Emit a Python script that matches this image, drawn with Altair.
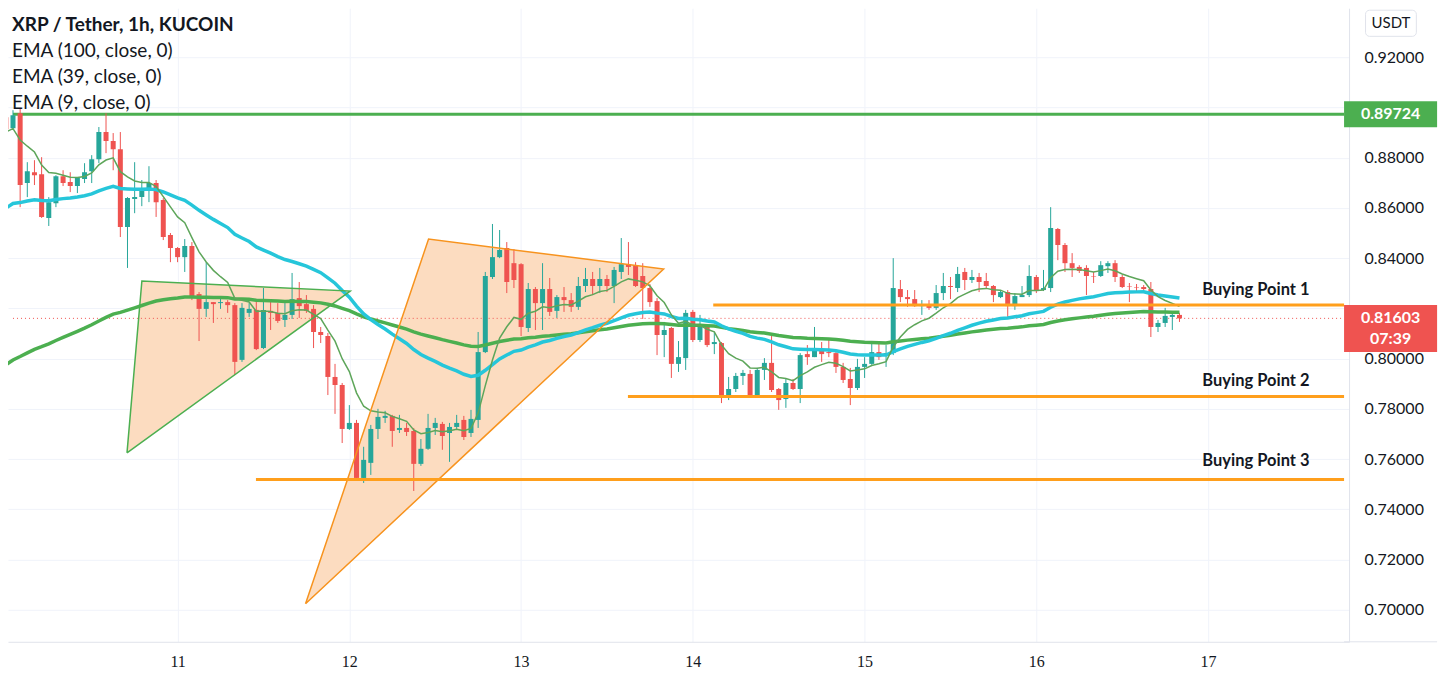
import altair as alt
import pandas as pd

# ---------------- data (XRP/USDT, 1h, KuCoin) ----------------
# candle index = hours since day 10 00:00
open_ = [
    0.8961, 0.8917, 0.8977, 0.8699, 0.8742, 0.8734, 0.8560, 0.8619, 0.8726, 0.8703,
    0.8687, 0.8715, 0.8746, 0.8794, 0.8902, 0.8866, 0.8834, 0.8524, 0.8635, 0.8643,
    0.8671, 0.8699, 0.8631, 0.8492, 0.8440, 0.8404, 0.8448, 0.8257, 0.8198, 0.8225,
    0.8221, 0.8225, 0.8213, 0.7995, 0.8182, 0.8194, 0.8042, 0.8190, 0.8182, 0.8154,
    0.8174, 0.8241, 0.8217, 0.8198, 0.8106, 0.8090, 0.7927, 0.7895, 0.7720, 0.7744,
    0.7525, 0.7585, 0.7720, 0.7764, 0.7772, 0.7716, 0.7724, 0.7712, 0.7581, 0.7641,
    0.7724, 0.7740, 0.7704, 0.7728, 0.7756, 0.7704, 0.7756, 0.8026, 0.8325, 0.8404,
    0.8440, 0.8380, 0.8376, 0.8122, 0.8277, 0.8221, 0.8277, 0.8190, 0.8245, 0.8233,
    0.8206, 0.8289, 0.8317, 0.8289, 0.8317, 0.8289, 0.8345, 0.8376, 0.8372, 0.8329,
    0.8281, 0.8229, 0.8094, 0.8122, 0.7979, 0.8002, 0.8186, 0.8074, 0.8126, 0.8058,
    0.8062, 0.7847, 0.7879, 0.7931, 0.7939, 0.7855, 0.7955, 0.7983, 0.7879, 0.7839,
    0.7903, 0.7879, 0.8018, 0.8006, 0.8034, 0.8026, 0.8022, 0.7967, 0.7919, 0.7883,
    0.7967, 0.7979, 0.8026, 0.8014, 0.8022, 0.8277, 0.8245, 0.8237, 0.8209, 0.8213,
    0.8202, 0.8261, 0.8289, 0.8281, 0.8345, 0.8313, 0.8325, 0.8309, 0.8289, 0.8245,
    0.8265, 0.8209, 0.8245, 0.8253, 0.8325, 0.8273, 0.8281, 0.8516, 0.8452, 0.8380,
    0.8365, 0.8361, 0.8329, 0.8329, 0.8368, 0.8380, 0.8325, 0.8289, 0.8285, 0.8285,
    0.8277, 0.8126, 0.8142, 0.8166, 0.8174,
]
high = [
    0.8981, 0.8989, 0.8997, 0.8782, 0.8790, 0.8802, 0.8643, 0.8730, 0.8750, 0.8742,
    0.8723, 0.8778, 0.8810, 0.8922, 0.8977, 0.8898, 0.8902, 0.8643, 0.8782, 0.8711,
    0.8766, 0.8711, 0.8639, 0.8500, 0.8444, 0.8476, 0.8464, 0.8265, 0.8384, 0.8225,
    0.8245, 0.8233, 0.8221, 0.8221, 0.8221, 0.8233, 0.8281, 0.8233, 0.8221, 0.8221,
    0.8341, 0.8305, 0.8253, 0.8213, 0.8126, 0.8102, 0.7979, 0.7903, 0.7815, 0.7756,
    0.7649, 0.7736, 0.7800, 0.7792, 0.7776, 0.7776, 0.7744, 0.7724, 0.7680, 0.7780,
    0.7764, 0.7748, 0.7744, 0.7776, 0.7772, 0.7796, 0.8106, 0.8345, 0.8536, 0.8512,
    0.8464, 0.8436, 0.8380, 0.8301, 0.8285, 0.8380, 0.8321, 0.8253, 0.8285, 0.8261,
    0.8325, 0.8361, 0.8345, 0.8361, 0.8333, 0.8365, 0.8480, 0.8464, 0.8384, 0.8380,
    0.8297, 0.8241, 0.8146, 0.8126, 0.8070, 0.8194, 0.8194, 0.8174, 0.8134, 0.8106,
    0.8066, 0.7927, 0.7943, 0.7955, 0.7955, 0.7963, 0.8002, 0.8102, 0.7883, 0.7919,
    0.7919, 0.8022, 0.8054, 0.8126, 0.8066, 0.8082, 0.8034, 0.7983, 0.7963, 0.7999,
    0.8006, 0.8066, 0.8066, 0.8054, 0.8400, 0.8313, 0.8273, 0.8273, 0.8233, 0.8233,
    0.8293, 0.8341, 0.8325, 0.8365, 0.8361, 0.8353, 0.8341, 0.8341, 0.8293, 0.8273,
    0.8273, 0.8261, 0.8289, 0.8372, 0.8333, 0.8353, 0.8603, 0.8520, 0.8460, 0.8420,
    0.8372, 0.8372, 0.8345, 0.8388, 0.8388, 0.8392, 0.8333, 0.8301, 0.8297, 0.8293,
    0.8305, 0.8154, 0.8202, 0.8182, 0.8182,
]
low = [
    0.8906, 0.8913, 0.8603, 0.8643, 0.8691, 0.8560, 0.8528, 0.8603, 0.8687, 0.8663,
    0.8659, 0.8699, 0.8699, 0.8778, 0.8818, 0.8750, 0.8484, 0.8361, 0.8579, 0.8607,
    0.8623, 0.8564, 0.8472, 0.8384, 0.8384, 0.8345, 0.8233, 0.8070, 0.8166, 0.8142,
    0.8198, 0.8182, 0.7935, 0.7987, 0.8166, 0.8034, 0.8038, 0.8114, 0.8142, 0.8126,
    0.8158, 0.8162, 0.8182, 0.8042, 0.8062, 0.7855, 0.7780, 0.7664, 0.7716, 0.7513,
    0.7505, 0.7537, 0.7680, 0.7744, 0.7649, 0.7704, 0.7692, 0.7473, 0.7573, 0.7637,
    0.7696, 0.7637, 0.7589, 0.7716, 0.7676, 0.7688, 0.7724, 0.8022, 0.8317, 0.8400,
    0.8261, 0.8281, 0.8090, 0.8106, 0.8114, 0.8114, 0.8170, 0.8162, 0.8186, 0.8186,
    0.8194, 0.8265, 0.8253, 0.8261, 0.8265, 0.8221, 0.8317, 0.8333, 0.8285, 0.8158,
    0.8206, 0.8014, 0.8006, 0.7923, 0.7947, 0.7955, 0.8066, 0.8066, 0.8046, 0.8018,
    0.7823, 0.7835, 0.7867, 0.7895, 0.7847, 0.7847, 0.7915, 0.7867, 0.7796, 0.7804,
    0.7875, 0.7823, 0.7975, 0.8006, 0.7987, 0.8006, 0.7943, 0.7903, 0.7815, 0.7875,
    0.7923, 0.7975, 0.7995, 0.7967, 0.8014, 0.8225, 0.8206, 0.8206, 0.8174, 0.8194,
    0.8194, 0.8233, 0.8237, 0.8265, 0.8273, 0.8301, 0.8265, 0.8281, 0.8225, 0.8241,
    0.8166, 0.8194, 0.8245, 0.8245, 0.8261, 0.8269, 0.8265, 0.8392, 0.8345, 0.8325,
    0.8341, 0.8253, 0.8301, 0.8325, 0.8341, 0.8305, 0.8281, 0.8225, 0.8265, 0.8265,
    0.8086, 0.8106, 0.8126, 0.8114, 0.8146,
]
close = [
    0.8913, 0.8969, 0.8691, 0.8746, 0.8730, 0.8564, 0.8623, 0.8726, 0.8699, 0.8687,
    0.8719, 0.8742, 0.8794, 0.8902, 0.8866, 0.8834, 0.8524, 0.8639, 0.8643, 0.8679,
    0.8699, 0.8623, 0.8484, 0.8440, 0.8404, 0.8448, 0.8245, 0.8198, 0.8225, 0.8217,
    0.8225, 0.8213, 0.7987, 0.8202, 0.8198, 0.8038, 0.8194, 0.8182, 0.8150, 0.8174,
    0.8237, 0.8209, 0.8190, 0.8106, 0.8094, 0.7927, 0.7895, 0.7720, 0.7744, 0.7525,
    0.7597, 0.7720, 0.7768, 0.7772, 0.7712, 0.7724, 0.7708, 0.7581, 0.7641, 0.7724,
    0.7744, 0.7692, 0.7728, 0.7744, 0.7688, 0.7760, 0.8026, 0.8329, 0.8404, 0.8432,
    0.8305, 0.8313, 0.8126, 0.8277, 0.8221, 0.8277, 0.8186, 0.8245, 0.8233, 0.8206,
    0.8289, 0.8317, 0.8289, 0.8317, 0.8289, 0.8353, 0.8376, 0.8365, 0.8289, 0.8281,
    0.8225, 0.8094, 0.8114, 0.7979, 0.8006, 0.8182, 0.8074, 0.8126, 0.8054, 0.8066,
    0.7847, 0.7879, 0.7931, 0.7943, 0.7855, 0.7955, 0.7983, 0.7875, 0.7835, 0.7903,
    0.7879, 0.8014, 0.8006, 0.8038, 0.8018, 0.8022, 0.7967, 0.7915, 0.7883, 0.7967,
    0.7979, 0.8026, 0.8006, 0.8022, 0.8281, 0.8245, 0.8237, 0.8209, 0.8213, 0.8202,
    0.8261, 0.8289, 0.8285, 0.8337, 0.8313, 0.8325, 0.8305, 0.8289, 0.8253, 0.8265,
    0.8209, 0.8249, 0.8253, 0.8329, 0.8269, 0.8281, 0.8520, 0.8452, 0.8380, 0.8361,
    0.8349, 0.8329, 0.8327, 0.8372, 0.8380, 0.8325, 0.8285, 0.8287, 0.8283, 0.8277,
    0.8126, 0.8142, 0.8170, 0.8174, 0.81603,
]

# EMA values at the first visible candle
ema100_start = 0.7975
ema39_start = 0.8599
ema9_start = 0.8902

# drawings
resistance = 0.89724
last_price = 0.81603
countdown = "07:39"
bp_names = ["Buying Point 1", "Buying Point 2", "Buying Point 3"]
bp_values = [0.8213, 0.7849, 0.7519]
bp_starts = [98.85, 86.93, 34.95]
bp_text_values = [0.8275, 0.7911, 0.7593]
bp_text_t = 167.2

green_tri_t = [16.93, 19.01, 48.12]
green_tri_v = [0.7625, 0.8309, 0.8269]
orange_tri_t = [41.88, 59.07, 91.92]
orange_tri_v = [0.7024, 0.8476, 0.8357]

header = ["XRP / Tether, 1h, KUCOIN", "EMA (100, close, 0)", "EMA (39, close, 0)", "EMA (9, close, 0)"]
day_ticks = [24, 48, 72, 96, 120, 144, 168]
price_ticks = [0.70, 0.72, 0.74, 0.76, 0.78, 0.80, 0.82, 0.84, 0.86, 0.88, 0.90, 0.92]
hidden_price_labels = [0.82, 0.90]   # covered by the price tags in the chart

X_DOMAIN = [1.0, 187.0]
Y_DOMAIN = [0.68727, 0.93949]
TAG_END = 200.0

UP = "#26a69a"
DOWN = "#ef5350"
TEXT = "#131722"
FONT = "Lato"


def ema(values, period, seed):
    k = 2.0 / (period + 1)
    out = [seed]
    for v in values[1:]:
        out.append(out[-1] + k * (v - out[-1]))
    return out


candles = pd.DataFrame({
    "t": list(range(len(close))),
    "open": open_, "high": high, "low": low, "close": close,
})
candles["ema100"] = ema(close, 100, ema100_start)
candles["ema39"] = ema(close, 39, ema39_start)
candles["ema9"] = ema(close, 9, ema9_start)

hide_expr = " || ".join(f"abs(datum.value - {h}) < 0.0001" for h in hidden_price_labels)

xscale = alt.Scale(domain=X_DOMAIN, nice=False, zero=False)
yscale = alt.Scale(domain=Y_DOMAIN, nice=False, zero=False)
xaxis = alt.Axis(values=day_ticks, labelExpr="format(datum.value / 24 + 10, 'd')",
                 grid=True, gridColor="#f0f3fa", ticks=False, domainColor="#e0e3eb",
                 labelColor=TEXT, labelFontSize=16, labelFont="Liberation Sans Narrow",
                 labelPadding=12, title=None)
yaxis = alt.Axis(orient="right", values=price_ticks,
                 labelExpr=f"({hide_expr}) ? '' : format(datum.value, '.5f')",
                 grid=True, gridColor="#f0f3fa", ticks=False, domainColor="#e0e3eb",
                 labelColor=TEXT, labelFontSize=16, labelFont=FONT, labelPadding=15,
                 labelAlign="left", labelBaseline="middle", title=None)


def X(f, **kw):
    return alt.X(f, type="quantitative", scale=xscale, axis=xaxis, **kw)


def Y(f, **kw):
    return alt.Y(f, type="quantitative", scale=yscale, axis=yaxis, **kw)


def tri_area(ts, vs):
    t0, t1, t2 = ts
    v0, v1, v2 = vs
    lower1 = v0 + (v2 - v0) * (t1 - t0) / (t2 - t0)
    return pd.DataFrame({"t": ts, "top": [v0, v1, v2], "bot": [v0, lower1, v2]})


def tri_outline(ts, vs):
    return pd.DataFrame({"k": [0, 1, 2, 3], "t": ts + ts[:1], "v": vs + vs[:1]})


FILL = "#fcdcc0"
area_g = alt.Chart(tri_area(green_tri_t, green_tri_v)).mark_area(color=FILL, clip=True).encode(
    x=X("t"), y=Y("top"), y2="bot")
area_o = alt.Chart(tri_area(orange_tri_t, orange_tri_v)).mark_area(color=FILL, clip=True).encode(
    x=X("t"), y=Y("top"), y2="bot")

candle_color = alt.condition("datum.close >= datum.open", alt.value(UP), alt.value(DOWN))
base = alt.Chart(candles)
wicks = base.mark_rule(strokeWidth=1, clip=True).encode(
    x=X("t"), y=Y("low"), y2="high", color=candle_color)
bodies = base.mark_bar(size=5, clip=True).encode(
    x=X("t"), y=Y("open"), y2="close", color=candle_color)

ema100_line = base.mark_line(color="#4caf50", strokeWidth=3.5, clip=True).encode(x=X("t"), y=Y("ema100"))
ema39_line = base.mark_line(color="#26c6da", strokeWidth=3.5, clip=True).encode(x=X("t"), y=Y("ema39"))
ema9_line = base.mark_line(color="#5ea65a", strokeWidth=1.5, clip=True).encode(x=X("t"), y=Y("ema9"))

outline_g = alt.Chart(tri_outline(green_tri_t, green_tri_v)).mark_line(
    color="#4caf50", strokeWidth=1.5, clip=True).encode(x=X("t"), y=Y("v"), order="k:Q")
outline_o = alt.Chart(tri_outline(orange_tri_t, orange_tri_v)).mark_line(
    color="#f7931e", strokeWidth=1.5, clip=True).encode(x=X("t"), y=Y("v"), order="k:Q")

res_df = pd.DataFrame({"t0": [X_DOMAIN[0]], "t1": [X_DOMAIN[1]], "v": [resistance]})
res_line = alt.Chart(res_df).mark_rule(color="#4caf50", strokeWidth=3).encode(
    x=X("t0"), x2="t1", y=Y("v"))

last_df = pd.DataFrame({"t0": [X_DOMAIN[0]], "t1": [X_DOMAIN[1]], "v": [last_price]})
last_line = alt.Chart(last_df).mark_rule(color=DOWN, strokeWidth=1, strokeDash=[1, 3]).encode(
    x=X("t0"), x2="t1", y=Y("v"))

bp_df = pd.DataFrame({"name": bp_names, "v": bp_values, "t0": bp_starts,
                      "t1": [X_DOMAIN[1]] * 3, "tv": bp_text_values, "tt": [bp_text_t] * 3})
bp_lines = alt.Chart(bp_df).mark_rule(color="#ff9f1c", strokeWidth=3).encode(
    x=X("t0"), x2="t1", y=Y("v"))
bp_text = alt.Chart(bp_df).mark_text(align="left", baseline="middle", font=FONT, fontSize=16.5,
                                     fontWeight="bold", color=TEXT).encode(
    x=X("tt"), y=Y("tv"), text="name:N")

# price tags on the right scale
tag_df = pd.DataFrame({
    "t0": [X_DOMAIN[1], X_DOMAIN[1]], "t1": [TAG_END, TAG_END],
    "top": [0.9025, 0.8213], "bot": [0.8921, 0.8026], "c": ["#4caf50", DOWN]})
tags = alt.Chart(tag_df).mark_rect(clip=False).encode(
    x=X("t0"), x2="t1", y=Y("top"), y2="bot", color=alt.Color("c:N", scale=None))
tag_txt_df = pd.DataFrame({
    "t": [(X_DOMAIN[1] + TAG_END) / 2] * 3,
    "v": [resistance, last_price, 0.8080],
    "s": [f"{resistance:.5f}", f"{last_price:.5f}", countdown]})
tag_txt = alt.Chart(tag_txt_df).mark_text(color="white", font=FONT, fontSize=16, fontWeight="bold",
                                          baseline="middle", clip=False).encode(
    x=X("t"), y=Y("v"), text="s:N")

usdt_df = pd.DataFrame({"t0": [190.0], "t1": [197.1], "top": [0.9387], "bot": [0.9283],
                        "t": [193.55], "v": [0.9335], "s": ["USDT"]})
usdt_box = alt.Chart(usdt_df).mark_rect(fill="white", stroke="#e0e3eb", strokeWidth=1,
                                        cornerRadius=4, clip=False).encode(
    x=X("t0"), x2="t1", y=Y("top"), y2="bot")
usdt_txt = alt.Chart(usdt_df).mark_text(color=TEXT, font=FONT, fontSize=15, baseline="middle",
                                        clip=False).encode(x=X("t"), y=Y("v"), text="s:N")

axis_ext_df = pd.DataFrame({"t0": [X_DOMAIN[1]], "t1": [TAG_END], "v": [Y_DOMAIN[0]]})
axis_ext = alt.Chart(axis_ext_df).mark_rule(color="#e0e3eb", strokeWidth=1, clip=False).encode(
    x=X("t0"), x2="t1", y=Y("v"))

header_layers = []
for i, line in enumerate(header):
    header_layers.append(
        alt.Chart(pd.DataFrame({"s": [line]})).mark_text(
            align="left", baseline="alphabetic", font=FONT, fontSize=19,
            fontWeight="bold" if i == 0 else "normal", color=TEXT).encode(
            x=alt.value(4), y=alt.value(23 + 26 * i), text="s:N"))

chart = alt.layer(
    area_g, area_o,
    res_line, last_line,
    wicks, bodies,
    ema100_line, ema39_line, ema9_line,
    outline_g, outline_o,
    bp_lines, bp_text,
    axis_ext, tags, tag_txt, usdt_box, usdt_txt,
    *header_layers,
).properties(
    width=1342, height=634, padding=0, background="white"
).configure_view(strokeWidth=0)

chart.save("out.html", embed_options={"renderer": "svg", "actions": False})
